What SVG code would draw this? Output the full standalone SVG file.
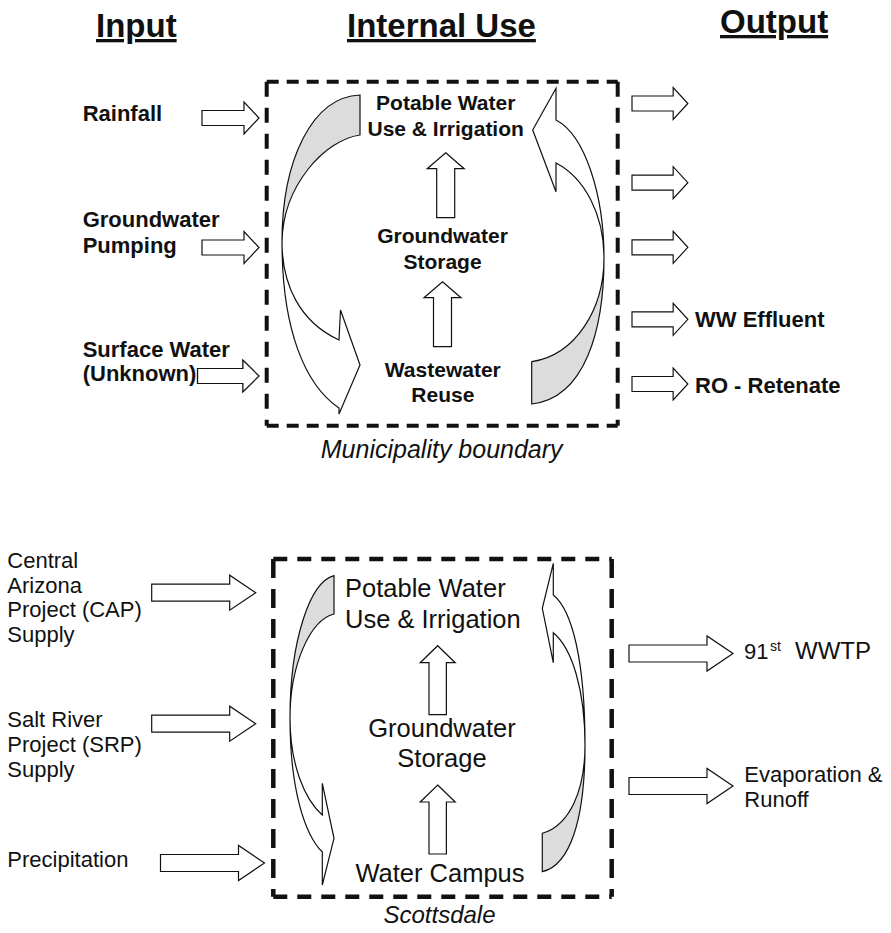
<svg xmlns="http://www.w3.org/2000/svg" width="891" height="933" viewBox="0 0 891 933">
<style>
text{font-family:"Liberation Sans",Arial,Helvetica,sans-serif;fill:#111}
.hd{font-size:33px;font-weight:bold;text-decoration:underline}
.lb{font-size:22px;font-weight:bold}
.ib{font-size:21px;font-weight:bold;text-anchor:middle}
.lr{font-size:22px}
.ir{font-size:25.5px}
.it{font-style:italic;text-anchor:middle}
.ar{fill:#fff;stroke:#111;stroke-width:1.2;stroke-linejoin:miter}
.cw{fill:#fff;stroke:#111;stroke-width:1.2}
.cg{fill:#dcdcdc;stroke:#111;stroke-width:1.2}
.bh{stroke:#111;stroke-width:4;stroke-dasharray:12 8;fill:none}
.bv{stroke:#111;stroke-width:4;stroke-dasharray:15 11;fill:none}
.bh2{stroke:#111;stroke-width:4.5;stroke-dasharray:14 10;fill:none}
.bv2{stroke:#111;stroke-width:4.5;stroke-dasharray:19 11;fill:none}
</style>
<defs>
<path id="aS" d="M0,-7.5 H42 V-16 L57,0 L42,16 V7.5 H0 Z"/>
<path id="aL" d="M0,-8.5 H78 V-17.5 L104,0 L78,17.5 V8.5 H0 Z"/>
<path id="u1" d="M0,0 L18.5,16 H9 V65 H-9 V16 H-18.5 Z"/>
<path id="u2" d="M0,0 L17.5,17 H8.7 V69 H-8.7 V17 H-17.5 Z"/>
</defs>

<g id="headers">
<text class="hd" x="96" y="37">Input</text>
<text class="hd" x="347" y="37">Internal Use</text>
<text class="hd" x="720" y="33">Output</text>
</g>

<g id="municipality-boundary">
<line class="bh" x1="266.7" y1="81.7" x2="617.7" y2="81.7"/>
<line class="bh" x1="266.7" y1="425.7" x2="617.7" y2="425.7"/>
<line class="bv" x1="266.7" y1="81.7" x2="266.7" y2="425.7"/>
<line class="bv" x1="617.7" y1="81.7" x2="617.7" y2="425.7"/>
<text class="it" x="441.7" y="458" style="font-size:25px">Municipality boundary</text>
</g>

<g id="top-inputs">
<text class="lb" x="82.7" y="120.7">Rainfall</text>
<text class="lb" x="82.7" y="226.7">Groundwater</text>
<text class="lb" x="82.7" y="252.7">Pumping</text>
<text class="lb" x="82.7" y="356.7">Surface Water</text>
<text class="lb" x="82.7" y="380.7">(Unknown)</text>
</g>

<g id="top-potable">
<text class="ib" x="445.7" y="110">Potable Water</text>
<text class="ib" x="445.7" y="136">Use &amp; Irrigation</text>
</g>
<g id="top-groundwater">
<text class="ib" x="442.5" y="243">Groundwater</text>
<text class="ib" x="442.5" y="268.5">Storage</text>
</g>
<g id="top-wastewater">
<text class="ib" x="442.8" y="377">Wastewater</text>
<text class="ib" x="442.8" y="402.3">Reuse</text>
</g>

<g id="top-outputs">
<text class="lb" x="695" y="326.7">WW Effluent</text>
<text class="lb" x="695" y="393.3">RO - Retenate</text>
</g>

<g id="bottom-inputs">
<text class="lr" x="7.3" y="567.5">Central</text>
<text class="lr" x="7.3" y="592.5">Arizona</text>
<text class="lr" x="7.3" y="617">Project (CAP)</text>
<text class="lr" x="7.3" y="642">Supply</text>
<text class="lr" x="7.3" y="726.7">Salt River</text>
<text class="lr" x="7.3" y="751.7">Project (SRP)</text>
<text class="lr" x="7.3" y="776.5">Supply</text>
<text class="lr" x="7.3" y="866.7">Precipitation</text>
</g>

<g id="scottsdale-boundary">
<line class="bh2" x1="273.3" y1="559" x2="611.7" y2="559"/>
<line class="bh2" x1="273.3" y1="896.7" x2="611.7" y2="896.7"/>
<line class="bv2" x1="273.3" y1="559" x2="273.3" y2="896.7"/>
<line class="bv2" x1="611.7" y1="559" x2="611.7" y2="896.7"/>
<text class="it" x="439.5" y="923.3" style="font-size:24px">Scottsdale</text>
</g>

<g id="bottom-potable">
<text class="ir" x="345" y="597.3">Potable Water</text>
<text class="ir" x="345" y="628.3">Use &amp; Irrigation</text>
</g>
<g id="bottom-groundwater">
<text class="ir" x="442" y="736.7" text-anchor="middle">Groundwater</text>
<text class="ir" x="442" y="766.7" text-anchor="middle">Storage</text>
</g>
<g id="bottom-campus">
<text class="ir" x="440" y="881.7" text-anchor="middle">Water Campus</text>
</g>

<g id="bottom-outputs">
<text class="lr" x="744" y="659.3" style="font-size:22px">91<tspan x="770" y="651" style="font-size:14px">st</tspan><tspan x="795" y="659.3" style="font-size:24px">WWTP</tspan></text>
<text class="lr" x="744.3" y="781.7">Evaporation &amp;</text>
<text class="lr" x="744.3" y="807.3">Runoff</text>
</g>

<g id="connectors">
<use href="#aS" class="ar" transform="translate(202,118)"/>
<use href="#aS" class="ar" transform="translate(202,247.5)"/>
<use href="#aS" class="ar" transform="translate(197.5,376) scale(1.08,1)"/>
<use href="#aS" class="ar" transform="translate(632,103.5) scale(0.98,1)"/>
<use href="#aS" class="ar" transform="translate(632,182.7) scale(0.98,1)"/>
<use href="#aS" class="ar" transform="translate(632,247.3) scale(0.98,1)"/>
<use href="#aS" class="ar" transform="translate(632,319.3) scale(0.98,1)"/>
<use href="#aS" class="ar" transform="translate(632,384) scale(0.98,1)"/>
<use href="#u1" class="ar" transform="translate(445.7,152.7)"/>
<use href="#u1" class="ar" transform="translate(442.5,281.7)"/>
<path class="cg" d="M360,95 C312,97 282,160 282,242 C283,185 325,140 360,135 Z"/>
<path class="cw" d="M282,242 C282,285 300,322 339,340 L340.5,310 L360,365 L339,414 L339,408 C305,385 282,330 282,242 Z"/>
<path class="cw" d="M604,258 C604,195 585,135 556,120 L556,88.3 L532.7,130 L556,191.7 L556,163 C585,178 604,215 604,258 Z"/>
<path class="cg" d="M604,258 C604,310 575,355 531.7,361.7 L531.7,404 C585,398 604,330 604,258 Z"/>

<use href="#aL" class="ar" transform="translate(151.7,592.7)"/>
<use href="#aL" class="ar" transform="translate(151.7,723.7)"/>
<use href="#aL" class="ar" transform="translate(160.5,863)"/>
<use href="#aL" class="ar" transform="translate(629,653.5)"/>
<use href="#aL" class="ar" transform="translate(629,786)"/>
<use href="#u2" class="ar" transform="translate(437.7,645.7)"/>
<use href="#u2" class="ar" transform="translate(437.7,785)"/>
<path class="cg" d="M334,575.7 C310,582 290,640 290,718 C290,665 310,620 334,614 Z"/>
<path class="cw" d="M290,718 C290,765 305,800 322.3,815 L322.3,783.3 L334,838.3 L322.3,885 L322.3,852 C305,835 290,790 290,718 Z"/>
<path class="cw" d="M585,745 C585,660 572,610 553.3,595 L553.3,563.3 L542.3,608.3 L553.3,662.7 L553.3,632.7 C572,648 585,690 585,745 Z"/>
<path class="cg" d="M585,745 C585,790 570,825 542.3,833.3 L542.3,871.7 C570,865 585,820 585,745 Z"/>
</g>
</svg>
